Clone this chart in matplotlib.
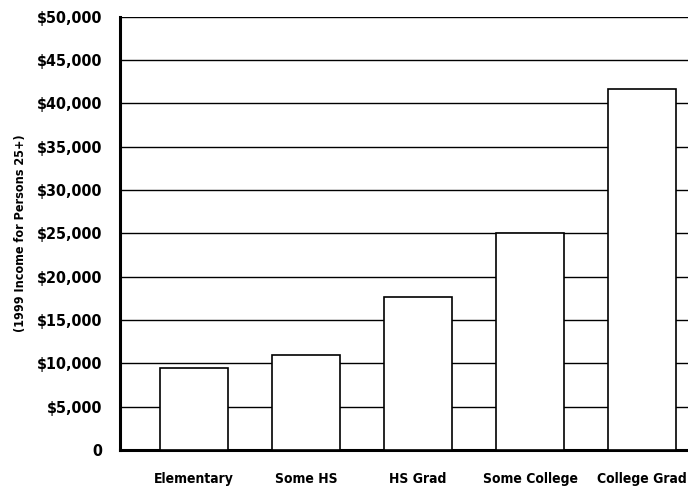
import matplotlib
matplotlib.use("Agg")
import matplotlib.pyplot as plt
import numpy as np
from matplotlib.ticker import FuncFormatter

# education level vs 1999 income
categories = ["Elementary", "Some HS", "HS Grad", "Some College", "College Grad"]
income = [9500, 11000, 17600, 25000, 41700]
y_ticks = [0, 5000, 10000, 15000, 20000, 25000, 30000, 35000, 40000, 45000, 50000]

plt.rcParams['font.family'] = ['DejaVu Sans']
plt.rcParams['font.stretch'] = 'condensed'
plt.rcParams['font.weight'] = 'bold'

fig = plt.figure(figsize=(6.88, 4.91), dpi=100)
ax = fig.add_axes([120/688, 1 - 450/491, 1 - 120/688, (450 - 16.7)/491])

x = np.arange(len(categories))
ax.bar(x, income, width=0.61, color='white', edgecolor='black', linewidth=1.2, zorder=3)

ax.set_ylim(0, 50000)
ax.set_xlim(-0.66, 4.41)
ax.set_yticks(y_ticks)
ax.yaxis.set_major_formatter(FuncFormatter(lambda v, p: "0" if v == 0 else "${:,.0f}".format(v)))
ax.set_xticks(x)
ax.set_xticklabels(categories)

ax.yaxis.grid(True, color='black', linewidth=1.0)
ax.set_axisbelow(True)

ax.tick_params(axis='y', length=0, pad=13, labelsize=11.5)
ax.tick_params(axis='x', length=0, pad=16, labelsize=10)

for side in ['top', 'right']:
    ax.spines[side].set_visible(False)
ax.spines['left'].set_linewidth(2.2)
ax.spines['bottom'].set_linewidth(2.2)

ax.set_ylabel("(1999 Income for Persons 25+)", fontsize=9, fontweight='bold', labelpad=7)

fig.savefig("out.png", dpi=100)
